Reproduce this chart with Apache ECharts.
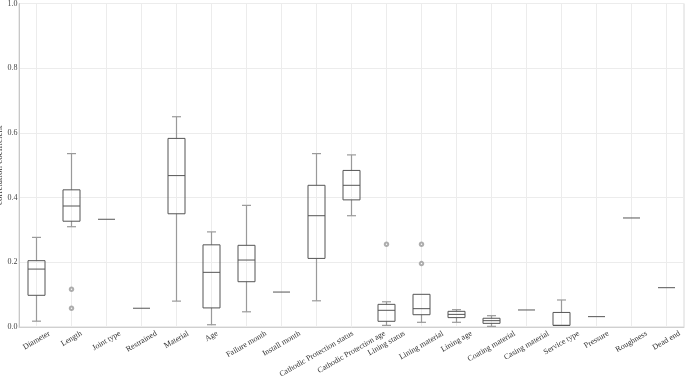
<!DOCTYPE html>
<html><head><meta charset="utf-8">
<script src="https://cdn.jsdelivr.net/npm/echarts@6/dist/echarts.min.js"></script>
<style>html,body{margin:0;padding:0;background:#fff}#c{width:685px;height:378px}</style>
</head><body><div id="c"></div>
<script>
const categories = ["Diameter","Length","Joint type","Restrained","Material","Age","Failure month","Install month","Cathodic Protection status","Cathodic Protection age","Lining status","Lining material","Lining age","Coating material","Casing material","Service type","Pressure","Roughness","Dead end"];
const lowWhisker = [0.018,0.310,0.333,0.058,0.080,0.007,0.047,0.108,0.081,0.344,0.005,0.0145,0.0145,0.002,0.0526,0.005,0.032,0.337,0.1215];
const q1 =         [0.098,0.327,0.333,0.058,0.350,0.059,0.140,0.108,0.212,0.393,0.0176,0.038,0.029,0.0113,0.0526,0.005,0.032,0.337,0.1215];
const median =     [0.179,0.374,0.333,0.058,0.468,0.169,0.207,0.108,0.344,0.438,0.0516,0.0567,0.039,0.0196,0.0526,0.005,0.032,0.337,0.1215];
const q3 =         [0.205,0.424,0.333,0.058,0.583,0.254,0.2525,0.108,0.438,0.484,0.070,0.101,0.0484,0.027,0.0526,0.045,0.032,0.337,0.1215];
const highWhisker =[0.277,0.536,0.333,0.058,0.650,0.294,0.376,0.108,0.536,0.532,0.078,0.101,0.0536,0.035,0.0526,0.0835,0.032,0.337,0.1215];
const outlierCats = ["Length","Length","Lining status","Lining material","Lining material"];
const outlierVals = [0.1165,0.058,0.2556,0.2556,0.196];
const yTicks = [0,0.2,0.4,0.6,0.8,1.0];

const boxData = categories.map((c,i)=>[i,lowWhisker[i],q1[i],median[i],q3[i],highWhisker[i]]);
const outData = outlierCats.map((c,i)=>[categories.indexOf(c),outlierVals[i]]);

const font = 'Liberation Serif';
const mctx = document.createElement('canvas').getContext('2d');
mctx.font = '8px "Liberation Serif"';
const ROT = 30;
const s = Math.sin(ROT*Math.PI/180), c = Math.cos(ROT*Math.PI/180);
// per-label rich styles: shift each rotated label so that it is centred under its tick
const rich = {};
categories.forEach((t,i)=>{
  const w = mctx.measureText(t).width;
  const d = 6 + w*s/2;
  rich['l'+i] = {fontFamily:font,fontSize:8,color:'#333',padding:[2*d*c,2*d*s,0,0]};
});

const chart = echarts.init(document.getElementById('c'));
chart.setOption({
  animation:false,
  grid:{left:19,right:1,top:3.5,bottom:51,outerBoundsMode:'none',containLabel:false,show:true,borderColor:'#d8d8d8',borderWidth:1},
  xAxis:{type:'category',data:categories,boundaryGap:true,
    axisLine:{show:true,lineStyle:{color:'#d0d0d0'}},
    axisTick:{show:false,interval:0},
    splitLine:{show:true,interval:0,alignWithLabel:true,lineStyle:{color:'#ececec'}},
    axisLabel:{show:true,interval:0,rotate:ROT,align:'center',verticalAlign:'middle',margin:0,hideOverlap:false,
      formatter:(v,i)=>'{l'+i+'|'+v+'}',rich:rich}},
  yAxis:{type:'value',min:yTicks[0],max:yTicks[yTicks.length-1],interval:0.2,
    name:'correlation coefficient',nameLocation:'middle',nameGap:15,nameMoveOverlap:false,
    nameTextStyle:{fontFamily:font,fontSize:9,color:'#333'},
    axisLine:{show:true,lineStyle:{color:'#c8c8c8'}},
    axisTick:{show:false},
    splitLine:{lineStyle:{color:'#ececec'}},
    axisLabel:{fontFamily:font,fontSize:8,color:'#444',margin:1.5,formatter:v=>v.toFixed(1)}},
  series:[{
    type:'custom',
    data:boxData,
    encode:{x:0,y:[1,2,3,4,5]},
    renderItem:function(params,api){
      const i=api.value(0);
      const lo=api.coord([i,api.value(1)]);
      const p1=api.coord([i,api.value(2)]);
      const pm=api.coord([i,api.value(3)]);
      const p3=api.coord([i,api.value(4)]);
      const hi=api.coord([i,api.value(5)]);
      const x=lo[0], bw=17, cw=9;
      const wStyle={stroke:'#9a9a9a',lineWidth:1.2};
      const bStyle={stroke:'#555',lineWidth:1,fill:null};
      const ch=[];
      if (Math.abs(lo[1]-p1[1])>0.5){
        ch.push({type:'line',shape:{x1:x,y1:lo[1],x2:x,y2:p1[1]},style:wStyle});
        ch.push({type:'line',shape:{x1:x-cw/2,y1:lo[1],x2:x+cw/2,y2:lo[1]},style:wStyle});
      }
      if (Math.abs(hi[1]-p3[1])>0.5){
        ch.push({type:'line',shape:{x1:x,y1:hi[1],x2:x,y2:p3[1]},style:wStyle});
        ch.push({type:'line',shape:{x1:x-cw/2,y1:hi[1],x2:x+cw/2,y2:hi[1]},style:wStyle});
      }
      if (Math.abs(p1[1]-p3[1])>0.5){
        ch.push({type:'rect',shape:{x:x-bw/2,y:p3[1],width:bw,height:p1[1]-p3[1]},style:bStyle});
      }
      ch.push({type:'line',shape:{x1:x-bw/2,y1:pm[1],x2:x+bw/2,y2:pm[1]},style:{stroke:'#555',lineWidth:1}});
      return {type:'group',children:ch};
    }
  },{
    type:'scatter',data:outData,symbol:'emptyCircle',symbolSize:3.5,
    itemStyle:{color:'#999',borderColor:'#999',borderWidth:0.7}
  }]
});
</script></body></html>
